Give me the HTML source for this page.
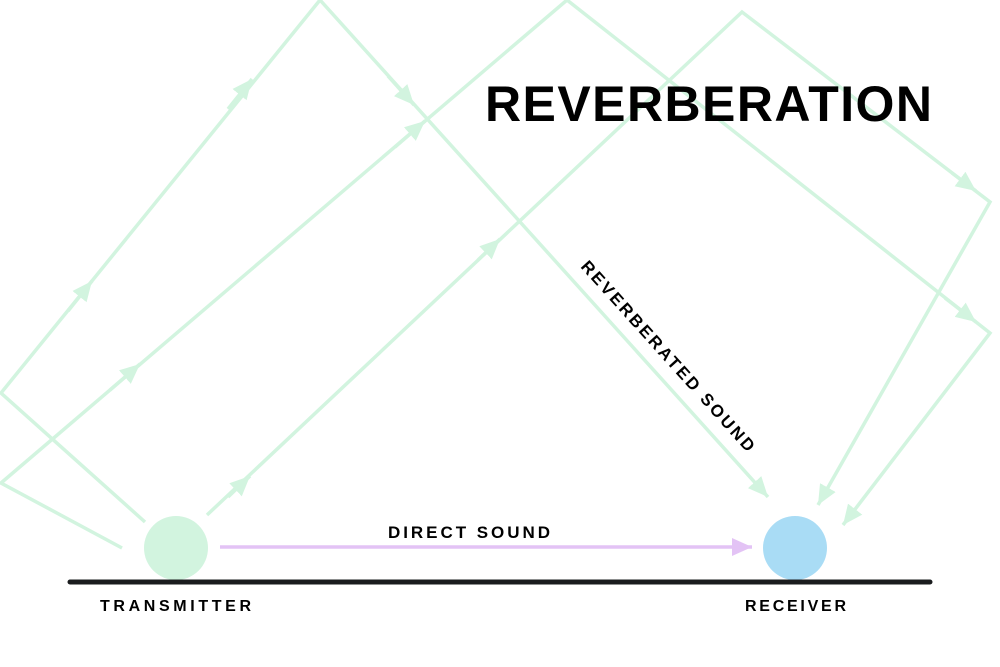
<!DOCTYPE html>
<html><head><style>body{margin:0;background:#fff}svg{display:block}</style></head><body>
<svg width="1000" height="667" viewBox="0 0 1000 667" xmlns="http://www.w3.org/2000/svg">
<defs>
<marker id="g" markerUnits="userSpaceOnUse" markerWidth="22" markerHeight="20" refX="20" refY="10" orient="auto"><path d="M0,1 L20,10 L0,19 z" fill="#d2f4df"/></marker>
<marker id="p" markerUnits="userSpaceOnUse" markerWidth="22" markerHeight="20" refX="20" refY="10" orient="auto"><path d="M0,1 L20,10 L0,19 z" fill="#e3c3f5"/></marker>
</defs>
<g fill="none" stroke="#d2f4df" stroke-width="3.5">
<polyline points="122,548 1,483 567,0 990,333 843,525" marker-end="url(#g)"/>
<polyline points="145,522 1,393 320,0 768,497" marker-end="url(#g)"/>
<polyline points="207,515 742,12 990,202 818,505" marker-end="url(#g)"/>
<line x1="110" y1="390" x2="140" y2="364" marker-end="url(#g)"/>
<line x1="395" y1="147" x2="425" y2="121" marker-end="url(#g)"/>
<line x1="945" y1="298" x2="976" y2="322" marker-end="url(#g)"/>
<line x1="68" y1="311" x2="92" y2="281" marker-end="url(#g)"/>
<line x1="228" y1="109" x2="252" y2="79" marker-end="url(#g)"/>
<line x1="388" y1="76" x2="414" y2="105" marker-end="url(#g)"/>
<line x1="228" y1="497" x2="250" y2="476" marker-end="url(#g)"/>
<line x1="478" y1="260" x2="500" y2="239" marker-end="url(#g)"/>
<line x1="952" y1="173" x2="976" y2="191" marker-end="url(#g)"/>
</g>
<line x1="220" y1="547" x2="752" y2="547" stroke="#e3c3f5" stroke-width="3.5" marker-end="url(#p)"/>
<circle cx="176" cy="548" r="32" fill="#d2f4df"/>
<circle cx="795" cy="548" r="32" fill="#a9dcf5"/>
<line x1="70" y1="582" x2="930" y2="582" stroke="#1a1c1e" stroke-width="5" stroke-linecap="round"/>
<g font-family="Liberation Sans, sans-serif" font-weight="bold" fill="#000">
<text x="485" y="121" font-size="50" textLength="447" lengthAdjust="spacing">REVERBERATION</text>
<text x="388" y="538" font-size="17" textLength="162" lengthAdjust="spacing">DIRECT SOUND</text>
<text x="100" y="611" font-size="16" textLength="151" lengthAdjust="spacing">TRANSMITTER</text>
<text x="745" y="611" font-size="16" textLength="101" lengthAdjust="spacing">RECEIVER</text>
<text transform="translate(580,267) rotate(48)" font-size="17" textLength="250" lengthAdjust="spacing">REVERBERATED SOUND</text>
</g>
</svg>
</body></html>
